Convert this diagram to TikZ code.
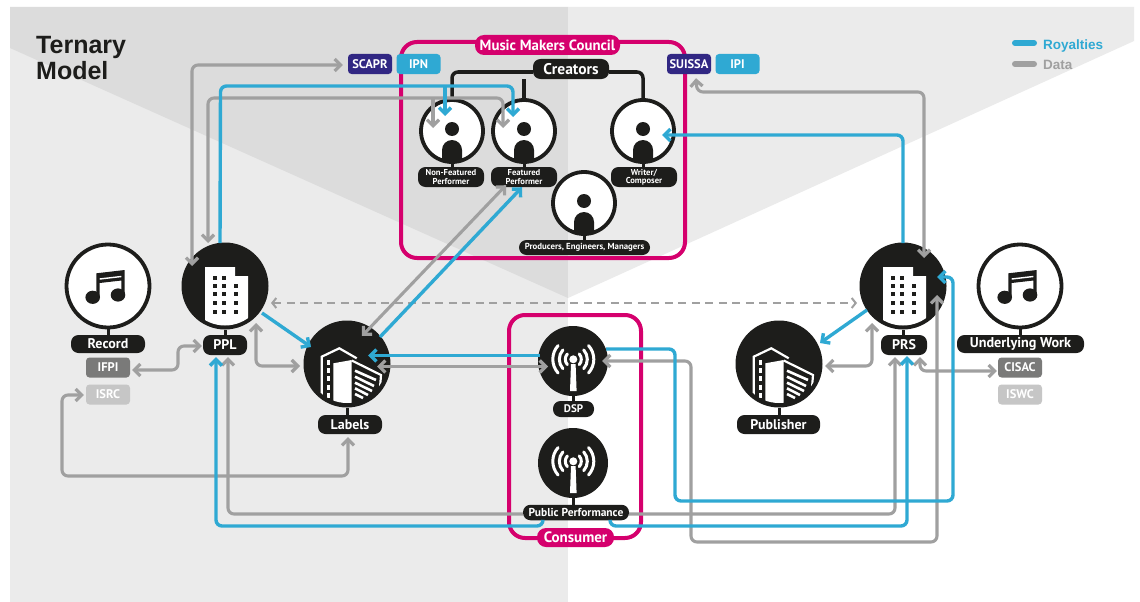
\documentclass[tikz,border=0pt]{standalone}
\usepackage{fontspec}
\setmainfont{PT Sans}
\newfontfamily\titlefont{Liberation Sans}
\usetikzlibrary{arrows.meta,calc}
\definecolor{ink}{HTML}{1D1D1B}
\definecolor{pinkc}{HTML}{D5006D}
\definecolor{bluec}{HTML}{2FA9D3}
\definecolor{grayc}{HTML}{A0A0A0}
\definecolor{bgdark}{HTML}{DCDCDC}
\definecolor{bglight}{HTML}{EBEBEB}
\definecolor{navyc}{HTML}{312783}
\definecolor{midgray}{HTML}{7A7A79}
\definecolor{palegray}{HTML}{C6C6C6}
\tikzset{
  tipg/.tip={Straight Barb[length=6pt,width=12pt,line width=3.2pt]},
  tipb/.tip={Straight Barb[length=6pt,width=12pt,line width=3.4pt]},
  datal/.style={draw=grayc,line width=3.1pt,rounded corners=6pt},
  royl/.style={draw=bluec,line width=3.4pt,rounded corners=6pt},
  pill/.style={fill=ink,text=white,rounded corners=7.5pt,inner sep=0pt,font=\bfseries\fontsize{#1}{#1}\selectfont,align=center},
  pill/.default=12,
  tagbox/.style={rounded corners=3.5pt,text=white,inner sep=0pt,minimum width=44pt,minimum height=20pt,font=\bfseries\fontsize{12.5}{13}\selectfont},
  darkdisc/.style={circle,fill=ink,inner sep=0pt,minimum size=87pt},
  whitedisc/.style={circle,draw=ink,fill=white,line width=3.8pt,inner sep=0pt,minimum size=#1},
  stem/.style={draw=ink,line width=3pt},
  pinkbox/.style={draw=pinkc,line width=4pt,rounded corners=16pt},
  pinkpill/.style={fill=pinkc,text=white,rounded corners=9pt,inner sep=0pt,font=\bfseries\fontsize{#1}{#1}\selectfont},
  person/.pic={
    \fill[ink] (0,-2) circle (7);
    \fill[ink] (-10,31) -- (-10,19) arc[start angle=180,end angle=360,radius=10] -- (10,31) -- cycle;
  },
  noteicon/.pic={
    \fill[ink] (-15.3,11.3) ellipse (7.3 and 6.6);
    \fill[ink] (10,9) ellipse (7.3 and 6.6);
    \fill[ink] (-11.7,-12.7) -- (16.7,-16) -- (16.7,9) -- (13.4,9) -- (13.4,-5.5) -- (-8.3,-3) -- (-8.3,11) -- (-11.7,11) -- cycle;
    \draw[white,line width=1.4pt] (-8.3,-7) -- (13.4,-9.5);
  },
  towericon/.pic={
    \begin{scope}
      \clip (0,0) circle (39.5);
      \fill[white] (-20,-19) -- (10,-19) -- (10,-10) -- (23,-10) -- (23,45) -- (-20,45) -- cycle;
    \end{scope}
    \foreach \wy in {-8.3,0}{\foreach \wx in {-10.3,-1}{\fill[ink] (\wx-2,\wy-2) rectangle (\wx+2,\wy+2);}}
    \fill[ink] (9.3,-2) rectangle (13.3,2);
    \foreach \wy in {8.3,16.7,25.7}{\foreach \wx in {-10.3,-1,11.3}{\fill[ink] (\wx-2,\wy-2) rectangle (\wx+2,\wy+2);}}
  },
  companyicon/.pic={
    \begin{scope}
      \clip (0,0) circle (39);
      \fill[white] (-13.7,-0.7) -- (4.7,-4) -- (4.7,45) -- (-13.7,45) -- cycle;
      \draw[white,line width=2.2pt,line join=miter] (-25.3,36) -- (-25.3,-7.3) -- (-7.7,-15.7) -- (9.7,-5.7);
      \draw[white,line width=2.2pt,line join=miter] (4.7,-3.5) -- (34,11) -- (33,24);
      \draw[white,line width=2.8pt,dash pattern=on 5pt off 3.2pt] (-18.7,-4) -- (-18.7,40);
      \draw[white,line width=2.6pt] (8,6.7) -- (29,16) (8,12.7) -- (27,22) (8,18.7) -- (25,27) (8,24.3) -- (21,31) (8,30) -- (16,34);
    \end{scope}
  },
  antennaicon/.pic={
    \fill[white] (0.3,-1.7) circle (4);
    \fill[white] (-2,3) -- (2.6,3) -- (3.6,30) -- (-3,30) -- cycle;
    \foreach \arcr/\arca in {8/42,14/42,20.5/42}{
      \draw[white,line width=3pt,line cap=round] ([shift={(-\arca:\arcr)}]0.3,-1.7) arc[start angle=-\arca,end angle=\arca,radius=\arcr];
      \draw[white,line width=3pt,line cap=round] ([shift={(180-\arca:\arcr)}]0.3,-1.7) arc[start angle=180-\arca,end angle=180+\arca,radius=\arcr];
    }
  },
}
\begin{document}
\begin{tikzpicture}[x=1pt,y=-1pt]
\useasboundingbox (0,0) rectangle (1140,602);
% background
\fill[white] (0,0) rectangle (1140,602);
\fill[bglight] (10,7) rectangle (568,602);
\fill[bgdark] (10,7) -- (568,7) -- (568,298) -- (10,48) -- cycle;
\fill[bglight] (568,7) -- (1134,7) -- (1134,41) -- (568,298) -- cycle;
% title and legend
\node[anchor=base west,inner sep=0pt,text=ink,font=\titlefont\bfseries\fontsize{25}{27}\selectfont] (title1) at (36,53) {Ternary};
\node[anchor=base west,inner sep=0pt,text=ink,font=\titlefont\bfseries\fontsize{25}{27}\selectfont] (title2) at (36,80) {Model};
\node[anchor=base west,inner sep=0pt,text=bluec,font=\titlefont\bfseries\fontsize{13.5}{14}\selectfont] (legroy) at (1043,49) {Royalties};
\node[anchor=base west,inner sep=0pt,text=grayc,font=\titlefont\bfseries\fontsize{13.5}{14}\selectfont] (legdata) at (1043,70) {Data};
\coordinate (legroyA) at (1015,43); \coordinate (legroyB) at (1034,43);
\coordinate (legdataA) at (1015,64); \coordinate (legdataB) at (1034,64);
\draw[bluec,line width=6pt,line cap=round] (legroyA) -- (legroyB);
\draw[grayc,line width=6pt,line cap=round] (legdataA) -- (legdataB);
% frames
\node[pinkbox,inner sep=0pt,minimum width=284pt,minimum height=216pt] (council) at (543,150) {};
\node[pinkbox,inner sep=0pt,minimum width=132pt,minimum height=223pt] (consumer) at (575,426.5) {};
% creators tree
\node[pill=15.5,minimum width=76pt,minimum height=20pt] (creators) at (571,69) {Creators};
\node[whitedisc=62pt] (nonfeat) at (452,131) {};
\node[whitedisc=62pt] (feat) at (524,131) {};
\node[whitedisc=62pt] (writer) at (643,131) {};
\node[whitedisc=62pt] (producers) at (584,203) {};
\draw[ink,line width=3.5pt,rounded corners=6pt] (creators.west |- 0,72) -- (452,72) -- (nonfeat.north);
\draw[ink,line width=3.5pt] (creators.south -| feat) -- (feat.north);
\draw[ink,line width=3.5pt,rounded corners=6pt] (creators.east |- 0,72) -- (643,72) -- (writer.north);
\pic at (nonfeat) {person}; \pic at (feat) {person}; \pic at (writer) {person}; \pic at (producers) {person};
\node[pill=8.6,minimum width=66pt,minimum height=20pt] (nonfeatL) at (451,177) {Non-Featured\\[-0.5pt]Performer};
\node[pill=8.6,minimum width=66pt,minimum height=20pt] (featL) at (524,177) {Featured\\[-0.5pt]Performer};
\node[pill=8.6,minimum width=66pt,minimum height=20pt] (writerL) at (644,177) {Writer/\\[-0.5pt]Composer};
\node[pill=8.8,minimum width=131pt,minimum height=15pt] (producersL) at (584.5,247.5) {Producers, Engineers, Managers};
\draw[stem] (producers.south) -- (producersL.north -| producers);
\draw[stem] (nonfeat.south) -- (nonfeatL.north -| nonfeat);
\draw[stem] (feat.south) -- (featL.north -| feat);
\draw[stem] (writer.south) -- (writerL.north -| writer);
% disc nodes
\node[whitedisc=83pt] (record) at (108,286) {};
\pic at (record) {noteicon};
\node[whitedisc=83pt] (work) at (1020,286) {};
\pic at (work) {noteicon};
\node[darkdisc] (ppl) at (225,286) {};
\pic at (ppl) {towericon};
\node[darkdisc] (prs) at (903,286) {};
\pic at (prs) {towericon};
\node[darkdisc] (labels) at (347,364) {};
\pic at (labels) {companyicon};
\node[darkdisc] (publisher) at (779,364) {};
\pic at (publisher) {companyicon};
\node[darkdisc,minimum size=70pt] (dsp) at (573,361) {};
\pic at (dsp) {antennaicon};
\node[darkdisc,minimum size=70pt] (public) at (573,463) {};
\pic at (public) {antennaicon};
% labels of discs
\node[pill=14,minimum width=74pt,minimum height=18pt] (recordL) at (108,344) {Record};
\node[pill=14,minimum width=44pt,minimum height=20pt] (pplL) at (225,345) {PPL};
\node[pill=14,minimum width=64pt,minimum height=19pt] (labelsL) at (350,424.5) {Labels};
\node[pill=14,minimum width=83pt,minimum height=19pt] (publisherL) at (778.5,424.5) {Publisher};
\node[pill=14,minimum width=46pt,minimum height=20pt] (prsL) at (904,345) {PRS};
\node[pill=14.2,minimum width=127pt,minimum height=18pt] (workL) at (1020.5,344) {Underlying Work};
\node[pill=11,minimum width=41pt,minimum height=16pt] (dspL) at (573.5,409) {DSP};
\node[pill=11.5,minimum width=106pt,minimum height=15.5pt] (publicL) at (576,512.5) {Public Performance};
\draw[stem] (record.south) -- (recordL.north -| record);
\draw[stem] (work.south) -- (workL.north -| work);
\draw[stem] (ppl.south) -- (pplL.north -| ppl);
\draw[stem] (prs.south) -- (prsL.north -| prs);
\draw[stem] (labels.south) -- (labelsL.north -| labels);
\draw[stem] (publisher.south) -- (publisherL.north -| publisher);
\draw[stem] (dsp.south) -- (dspL.north -| dsp);
\draw[stem] (public.south) -- (publicL.north -| public);
% tags
\node[tagbox,fill=navyc] (scapr) at (370,64) {SCAPR};
\node[tagbox,fill=bluec] (ipn) at (418.5,64) {IPN};
\node[tagbox,fill=navyc] (suissa) at (689,64) {SUISSA};
\node[tagbox,fill=bluec] (ipi) at (737.5,64) {IPI};
\node[tagbox,fill=midgray] (ifpi) at (108,367.5) {IFPI};
\node[tagbox,fill=palegray] (isrc) at (108,394.5) {ISRC};
\node[tagbox,fill=midgray] (cisac) at (1020,367.5) {CISAC};
\node[tagbox,fill=palegray] (iswc) at (1020,394.5) {ISWC};
% data connectors
\draw[datal,{tipg}-{tipg}] ($(ppl)+(-33,-20)$) -- (192,65) -- ($(scapr.west)+(-5,1)$);
\draw[datal,{tipg}-{tipg}] ($(ppl)+(-17,-43)$) -- (208,98) -- (503,98) -- ($(feat)+(-21,-3)$);
\draw[datal,-{tipg}] (433,98) -- ($(nonfeat)+(-19,-3)$);
\draw[draw=grayc,line width=2pt,dash pattern=on 8pt off 5.5pt,{tipg[width=10pt,length=4pt,line width=2pt]}-{tipg[width=10pt,length=4pt,line width=2pt]}] ($(ppl)+(46,17)$) -- ($(prs)+(-46,17)$);
\draw[datal,{tipg}-{tipg}] ($(ppl)+(31,37)$) -- (256,366) -- ($(labels)+(-47,2)$);
\draw[datal,{tipg}-{tipg}] ($(ifpi.east)+(2,2.5)$) -- (178,370) -- (178,346) -- ($(pplL.west)+(-1,1)$);
\draw[datal,{tipg}-{tipg}] ($(isrc.west)+(-2,0.5)$) -- (62,395) -- (62,476) -- (348,476) -- ($(labelsL.south)+(-2,3)$);
\draw[datal,{tipg}-{tipg}] ($(labels)+(15,-28)$) -- ($(featL.south)+(-18,-2)$);
\draw[datal,{tipg}-{tipg}] ($(labels)+(30,2.5)$) -- ($(dsp)+(-25,5.5)$);
\draw[datal,-{tipg}] ($(publicL.west)+(0,1.5)$) -- (228,514) -- ($(pplL.south)+(3,2)$);
\draw[datal,-{tipg}] ($(publicL.east)+(0,1.5)$) -- (895,514) -- ($(prsL.south)+(-9,2)$);
\draw[datal,{tipg}-{tipg}] ($(dsp)+(29,0)$) -- (691,361) -- (691,542) -- (937,542) -- ($(prs)+(34,9)$);
\draw[datal,{tipg}-{tipg}] ($(publisher)+(46,2)$) -- (872,366) -- ($(prs)+(-31,37)$);
\draw[datal,{tipg}-{tipg}] ($(prsL.south)+(16,2)$) -- (920,371) -- ($(cisac.west)+(-1,3.5)$);
\draw[datal,{tipg}-{tipg}] ($(suissa.south)+(7,4)$) -- (697,92) -- (924,92) -- ($(prs)+(21,-28)$);
% royalties connectors
\draw[royl,-{tipb}] ($(ppl)+(-5,-43)$) -- (220.5,86) -- (513,86) -- ($(feat)+(-11,-14)$);
\draw[royl,-{tipb}] (445,86) -- ($(nonfeat)+(-7,-15)$);
\draw[royl,-{tipb}] ($(ppl)+(37,27)$) -- ($(labels)+(-36,-17)$);
\draw[royl,-{tipb}] ($(labels)+(33,-27)$) -- ($(featL.south)+(-2,0)$);
\draw[royl,-{tipb}] ($(dsp)+(-33,-5.5)$) -- ($(labels)+(21,-8.5)$);
\draw[royl,-{tipb}] ($(publicL.south)+(-33,0)$) -- (543,526) -- (216,526) -- ($(pplL.south)+(-9,2)$);
\draw[royl,-{tipb}] ($(publicL.south)+(34,0)$) -- (610,526) -- (907,526) -- ($(prsL.south)+(3,1)$);
\draw[royl,-{tipb}] ($(dsp)+(33,-12)$) -- (675,349) -- (675,501) -- (953,501) -- (953,277) -- ($(prs)+(34,-9)$);
\draw[royl,-{tipb}] ($(prs)+(-36,24)$) -- ($(publisher)+(41,-21)$);
\draw[royl,-{tipb}] ($(prs)+(0,-43)$) -- (903,135) -- ($(writer)+(19,4)$);
% labels on top of the connectors
\node[pinkpill=14.8,minimum width=145pt,minimum height=20pt] (councilL) at (547.5,45) {Music Makers Council};
\node[pinkpill=15,minimum width=77pt,minimum height=19pt] (consumerL) at (575.5,537.5) {Consumer};
\end{tikzpicture}
\end{document}
